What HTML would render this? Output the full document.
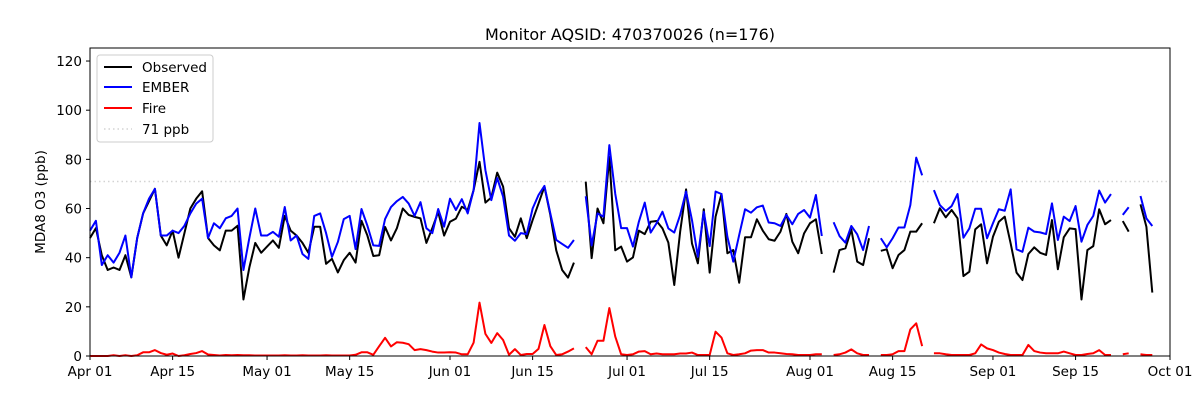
<!DOCTYPE html>
<html><head><meta charset="utf-8"><style>
body{margin:0;background:#fff;}
svg{display:block;font-family:"DejaVu Sans","Liberation Sans",sans-serif;}
</style></head><body>
<svg id="chart" width="1200" height="400" viewBox="0 0 1200 400" xmlns="http://www.w3.org/2000/svg">
<rect x="0" y="0" width="1200" height="400" fill="#fff"/>
<text x="630" y="40" font-size="16" text-anchor="middle">Monitor AQSID: 470370026 (n=176)</text>
<text transform="translate(45,202) rotate(-90)" font-size="13.5" text-anchor="middle">MDA8 O3 (ppb)</text>
<g id="plot"></g>
<rect x="90" y="48" width="1080" height="308" fill="none" stroke="#000" stroke-width="1"/>
<g>
<rect x="97" y="55" width="116" height="87" rx="3" fill="#fff" fill-opacity="0.8" stroke="#ccc"/>
<line x1="104" y1="67" x2="132" y2="67" stroke="#000" stroke-width="2"/>
<text x="142" y="72" font-size="13.5">Observed</text>
<line x1="104" y1="87" x2="132" y2="87" stroke="#0000ff" stroke-width="2"/>
<text x="142" y="92" font-size="13.5">EMBER</text>
<line x1="104" y1="108" x2="132" y2="108" stroke="#ff0000" stroke-width="2"/>
<text x="142" y="113" font-size="13.5">Fire</text>
<line x1="104" y1="129" x2="132" y2="129" stroke="#d3d3d3" stroke-width="1.5" stroke-dasharray="1.5,3"/>
<text x="142" y="134" font-size="13.5">71 ppb</text>
</g>
</svg>
<script>
const N=null;
const observed=[48,52,41,35,36,35,41,32,48,58,63,68,49,45,51,40,50,60,64,67,48,45,43,51,51,53,23,36,46,42,
44.5,47,44,57,51,49,46,42,52.6,52.6,37.5,39.5,34,39,42,38,55,49,40.7,41,52.5,47,52,60,57.4,56.6,56,46,52,58.6,49,
54.6,55.9,60.7,59.4,67.5,79,62.4,64.5,74.6,68.9,52,48.5,56,47.9,55.3,62,68.9,57.4,43,35,31.9,38,
N,70.9,39.8,60,54,81,43,44.5,
38.4,40.1,51,49.6,54.6,54.9,51.9,46.1,28.9,50.6,67.8,45.8,37.7,59.7,33.9,56.7,65.9,41.8,43.1,29.8,48.3,48.3,55.6,51,47.5,46.9,50.6,57.8,46.5,41.8,49.9,54,
55.6,41.5,N,33.9,43.1,43.8,51.5,38.4,37,47.9,N,42.8,43.4,35.7,41.1,43.1,50.6,50.6,54,N,
54,60.1,56.4,59.4,56,32.5,34.3,51.5,53.6,37.7,
48.5,54.6,56.7,45.8,33.9,30.9,41.5,44.2,42,41.1,55.3,35.3,48.3,51.9,51.6,23,43.1,44.7,59.7,53.6,55.3,
N,54.9,50.6,N,61.7,52.6,25.8,N,N];
const ember=[51,55,37,41,38,42,49,32,48,58,64,68,49,49,51,50,53,58,62,64,48,54,52,56,57,60,35,48,60,49,
49,50.5,48.5,60.6,47,49,41.5,39.5,57,58,50,40.3,46.4,55.7,57,43.5,59.8,53,45,44.8,55.7,60.6,63,64.7,62,57,62.6,52,50,59.8,52.6,
64,59.4,63.8,58,67.5,94.8,75.6,63.4,72.4,64.8,49,46.9,50,49.6,60,65.5,69.2,58,47.2,45.6,44,47.2,
N,65,45,58,56.7,85.8,66,52,
52,44.5,54.6,62.4,50.2,54,58.7,51.9,50.2,57.4,66.9,55.3,40.4,58.7,44.7,66.9,65.9,48.5,38.4,49.2,59.7,58.3,60.5,61.2,54.3,54,52.9,57.4,53.6,57.8,59.4,56.3,
65.5,48.8,N,54.4,48.8,46.1,52.9,49.5,43.1,52.9,N,47.9,44.2,47.9,52.3,52.3,61.4,80.7,73.5,N,
67.5,61.4,59,61,65.9,48.1,51.9,59.9,59.9,47.9,
54,59.7,59.1,67.8,43.4,42.4,52.2,50.6,50.3,49.6,62.1,47.2,56.7,54.9,61,46.5,53.3,57,67.3,62.4,65.9,
N,57.4,60.5,N,65.1,56,52.9,N,N];
const fire=[0,0,0,0,0.3,0,0.3,0,0.3,1.5,1.5,2.4,1.2,0.5,1,0,0.3,0.8,1.2,2,0.6,0.4,0.2,0.4,0.3,0.4,0.3,0.3,0.2,0.2,
0.2,0.2,0.2,0.3,0.2,0.2,0.3,0.2,0.2,0.2,0.3,0.2,0.2,0.2,0.2,0.5,1.5,1.5,0.5,4,7.4,3.9,5.6,5.4,4.8,2.4,2.8,2.4,1.8,1.4,1.4,
1.5,1.4,0.7,0.7,5.4,21.7,9,5.3,9.3,6.5,0.5,2.8,0.4,0.8,0.8,2.9,12.6,4,0.4,0.7,1.8,3.1,
N,3.6,0.7,6.2,6.2,19.5,7.9,0.7,
0.4,0.7,1.8,2,0.7,1,0.7,0.7,0.7,1,1,1.4,0.4,0.4,0.4,9.9,7.5,1.1,0.4,0.7,1.1,2.2,2.4,2.4,1.4,1.4,1.1,0.8,0.7,0.4,0.4,0.4,
0.7,0.7,N,0.4,0.7,1.4,2.7,1.1,0.4,0.4,N,0.4,0.4,0.7,2,2,10.8,13.3,4,N,
1.1,1.1,0.7,0.4,0.4,0.4,0.4,1.1,4.7,3.1,
2.4,1.4,0.8,0.4,0.4,0.4,4.5,2,1.4,1.1,1.1,1.1,1.8,1.1,0.4,0.4,0.8,1.1,2.4,0.4,0.4,
N,0.7,1.1,N,0.7,0.4,0.4,N,N];
const threshold=71;
const yTicks=[0,20,40,60,80,100,120];
const xTickDays=[0,14,30,44,61,75,91,105,122,136,153,167,183];
const xTickLabels=["Apr 01","Apr 15","May 01","May 15","Jun 01","Jun 15","Jul 01","Jul 15","Aug 01","Aug 15","Sep 01","Sep 15","Oct 01"];

const L=90,R=1170,T=48,B=356,DAYS=183,YMAX=125.3;
function xs(d){return L+d*(R-L)/DAYS;}
function ys(v){return B-v*(B-T)/YMAX;}
const NS="http://www.w3.org/2000/svg";
const plot=document.getElementById('plot');
const svg=document.getElementById('chart');
function mk(tag,attrs,parent){const e=document.createElementNS(NS,tag);for(const k in attrs)e.setAttribute(k,attrs[k]);(parent||plot).appendChild(e);return e;}

yTicks.forEach(v=>{
  const g=mk('g',{});
  
  
  mk('line',{x1:L-4,x2:L,y1:ys(v),y2:ys(v),stroke:'#000'},g);
  const t=mk('text',{x:L-8,y:ys(v)+5,'font-size':13.5,'text-anchor':'end'},g);
  t.textContent=v;
});
xTickDays.forEach((d,i)=>{
  const g=mk('g',{});
  
  
  mk('line',{x1:xs(d),x2:xs(d),y1:B,y2:B+4,stroke:'#000'},g);
  const t=mk('text',{x:xs(d),y:B+20,'font-size':13.5,'text-anchor':'middle'},g);
  t.textContent=xTickLabels[i];
});
const th=mk('line',{x1:L,x2:R,y1:ys(threshold),y2:ys(threshold),stroke:'#d3d3d3','stroke-width':1.5,'stroke-dasharray':'1.5,3'});



function series(arr,color,name){
  let d='',pen=false;
  arr.forEach((v,i)=>{
    if(v===null){pen=false;return;}
    d+=(pen?'L':'M')+xs(i).toFixed(2)+','+ys(v).toFixed(2);
    pen=true;
  });
  const p=mk('path',{d:d,fill:'none',stroke:color,'stroke-width':2,'stroke-linejoin':'round'});
  
  
}
series(observed,'#000000','observed-line');
series(ember,'#0000ff','ember-line');
series(fire,'#ff0000','fire-line');
</script>
</body></html>
